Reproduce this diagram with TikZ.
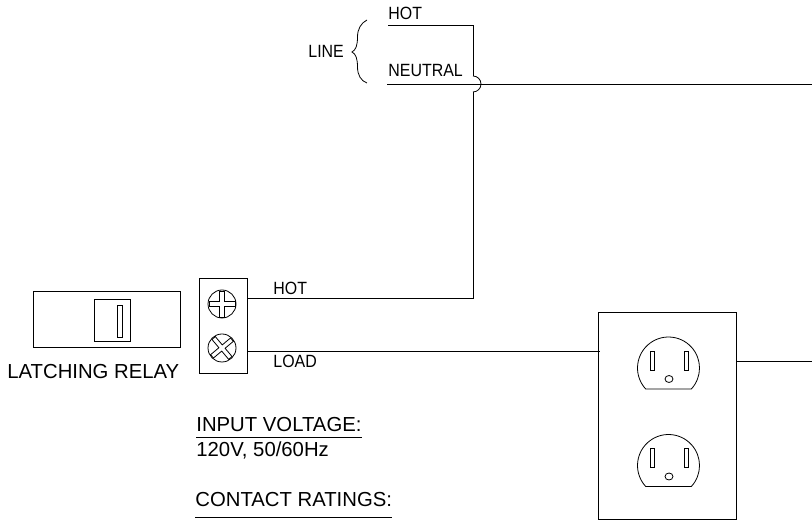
\documentclass[tikz,border=0pt]{standalone}
\usepackage{fontspec}
\usepackage{tikz}
\setmainfont{Liberation Sans}
\newfontfamily\cadfont[FakeStretch=0.9]{Liberation Sans}
\tikzset{
  cadlabel/.style={anchor=base west, inner sep=0pt, font=\cadfont\fontsize{17.7}{18}\selectfont},
  notelabel/.style={anchor=base west, inner sep=0pt, font=\fontsize{20.3}{21}\selectfont},
  part/.style={draw, inner sep=0pt, outer sep=0pt},
  screw/.style={draw, circle, minimum size=28pt, inner sep=0pt, outer sep=0pt}
}
\begin{document}
\begin{tikzpicture}[x=1pt,y=1pt,line width=0.8pt]
\useasboundingbox (0,0) rectangle (812,521);
% line side
\coordinate (hotin) at (388,496);
\coordinate (hotturn) at (473,496);
\coordinate (hopup) at (473,445);
\coordinate (hopdown) at (473,429);
\coordinate (hotdrop) at (473,222.5);
\coordinate (neutralin) at (387,437);
\coordinate (neutralout) at (812,437);
\node[cadlabel](hottop) at (388,501){HOT};
\node[cadlabel](neutraltop) at (388,444){NEUTRAL};
\node[cadlabel](linelabel) at (308,463){LINE};
\draw (367,501) .. controls (361,498) and (357.5,492) .. (357.5,484)
  .. controls (357.5,476) and (356,471) .. (352,469)
  .. controls (356,467) and (357.5,462) .. (357.5,454)
  .. controls (357.5,446) and (361,440) .. (367,438);
% relay and terminals
\node[part, minimum width=147pt, minimum height=56pt](relay) at (106.5,202){};
\node[part, minimum width=36pt, minimum height=42pt](relaycap) at (112,201){};
\node[part, minimum width=5.5pt, minimum height=32pt](relayslot) at (119.75,200){};
\node[notelabel](relaylabel) at (7,142){LATCHING RELAY};
\node[part, minimum width=48pt, minimum height=95pt](terminal) at (223,195.5){};
\node[screw](screwa) at (222,217){};
\node[screw](screwb) at (222,173){};
\foreach \nm/\ang in {screwa/0,screwb/40}{
  \draw[shift={(\nm.center)},rotate=\ang] (-13,2.2) -- (-2.2,2.2) -- (-2.2,13) -- (2.2,13) -- (2.2,2.2) -- (13,2.2)
    -- (13,-2.2) -- (2.2,-2.2) -- (2.2,-13) -- (-2.2,-13) -- (-2.2,-2.2) -- (-13,-2.2) -- cycle;
}
\coordinate (termhot) at (247,222.5);
\coordinate (termload) at (247,170);
\node[cadlabel](hotlabel) at (273,226){HOT};
\node[cadlabel](loadlabel) at (273,153){LOAD};
% receptacle
\node[part, minimum width=138pt, minimum height=207pt](plate) at (667,105.5){};
\coordinate (plateload) at (600,170);
\coordinate (plateout) at (736,160);
\coordinate (neutralend) at (812,160);
\foreach \cy in {153,55.5}{
  \draw[shift={(668.5,\cy)}] (-22.8,-21) arc[start angle=222.6,end angle=-42.6,radius=31] -- cycle;
  \draw[shift={(668.5,\cy)}] (-18.5,-2) rectangle (-14.5,17);
  \draw[shift={(668.5,\cy)}] (15.5,-2) rectangle (19.5,17);
  \draw[shift={(668.5,\cy)}] (0.5,-11) ellipse (4 and 3.5);
}
% wires
\draw (hotin) -- (hotturn) -- (hopup);
\draw (hopup) arc[start angle=90,end angle=-90,radius=8];
\draw (hopdown) -- (hotdrop) -- (termhot);
\draw (neutralin) -- (neutralout);
\draw (termload) -- (plateload);
\draw (plateout) -- (neutralend);
% notes
\node[notelabel, inner ysep=5pt](voltlabel) at (196,89){INPUT VOLTAGE:};
\draw (voltlabel.south west) -- (voltlabel.south east);
\node[notelabel](voltvalue) at (196,64){120V, 50/60Hz};
\node[notelabel, inner ysep=10pt](ratinglabel) at (195,14){CONTACT RATINGS:};
\draw (ratinglabel.south west) -- (ratinglabel.south east);
\end{tikzpicture}
\end{document}
